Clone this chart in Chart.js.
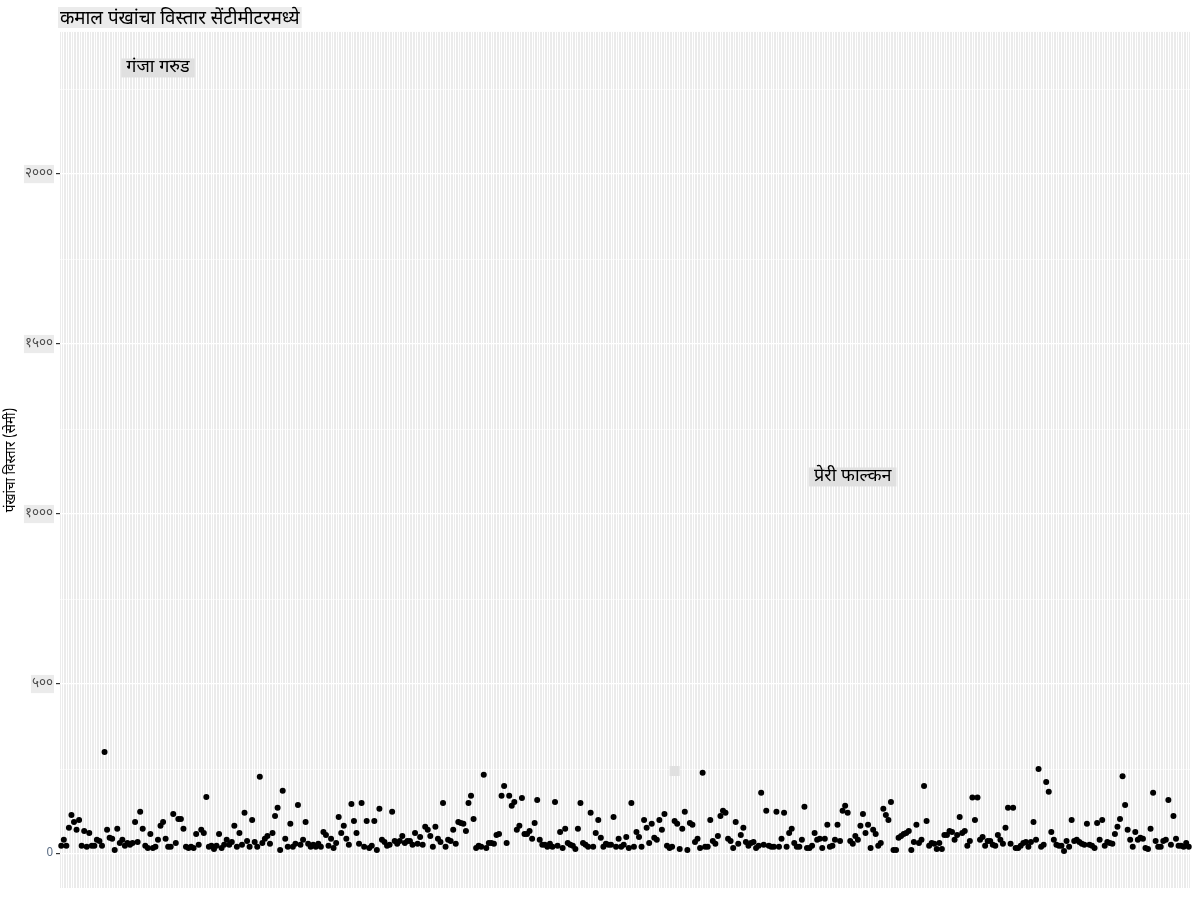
<!DOCTYPE html>
<html>
<head>
<meta charset="utf-8">
<title>कमाल पंखांचा विस्तार</title>
<script src="https://cdn.jsdelivr.net/npm/chart.js@4.4.1/dist/chart.umd.min.js"></script>
<style>
  html, body { margin: 0; padding: 0; background: #ffffff; }
  #wrap { width: 1200px; height: 900px; }
</style>
</head>
<body>
<div id="wrap"><canvas id="spanChart" width="1200" height="900"></canvas></div>
<script>
const chartTitle = 'कमाल पंखांचा विस्तार सेंटीमीटरमध्ये';
const yTitle = 'पंखांचा विस्तार (सेमी)';
const yGridValues = [0, 250, 500, 750, 1000, 1250, 1500, 1750, 2000, 2250];
const yTickValues = [0, 500, 1000, 1500, 2000];
const yTickLabels = ['0', '५००', '१०००', '१५००', '२०००'];

// wingspan (cm), read left to right off the picture
const spanPart1 = [24, 42, 24, 77, 115, 94, 71, 100, 24, 68, 21, 62, 24, 24, 42, 38, 24, 300, 71, 48,
    45, 12, 74, 32, 42, 24, 32, 27, 32, 94, 35, 124, 74, 24, 18, 59, 18, 21, 42, 83,
    94, 45, 21, 21, 118, 32, 103, 103, 74, 21, 18, 21, 18, 59, 27, 71, 62, 168, 21, 24,
    15, 24, 59, 18, 27, 42, 27, 35, 83, 21, 62, 27];
const spanPart2 = [121, 38, 21, 100, 35, 21, 227, 32, 45, 53, 30, 62, 112, 136, 12, 186, 45, 21, 89, 21,
    30, 144, 27, 42, 94, 30, 21, 27, 21, 30, 21, 65, 56, 24, 45, 18, 32, 109, 62, 83,
    45, 27, 147, 97, 62, 30, 150, 21, 97, 18, 24, 97, 12, 133, 42, 35, 24, 27, 124, 38,
    30, 38, 53, 32, 38, 38, 27, 62, 30, 50, 27, 80, 71, 53];
const spanPart3 = [21, 80, 45, 35, 150, 21, 42, 38, 71, 30, 94, 91, 89, 68, 150, 171, 103, 18, 24, 21,
    233, 18, 32, 32, 30, 56, 59, 171, 200, 32, 171, 142, 153, 71, 83, 165, 59, 59, 68, 45,
    91, 159, 42, 27, 27, 21, 30, 21, 153, 24, 65, 18, 74, 32, 27, 24, 15, 74, 150, 32,
    27, 21, 121, 21, 62, 100, 48, 21, 30, 27, 27, 109, 21, 45, 21, 27];
const spanPart4 = [50, 18, 150, 21, 65, 50, 21, 100, 77, 32, 89, 48, 42, 100, 71, 118, 24, 18, 21, 97,
    89, 15, 74, 124, 12, 91, 86, 35, 45, 18, 239, 21, 21, 100, 38, 30, 53, 112, 127, 121,
    45, 38, 18, 94, 30, 56, 77, 35, 24, 32, 35, 18, 24, 180, 27, 127, 24, 21, 21, 124,
    21, 45, 121, 21, 62, 74, 32, 21, 21, 42, 139, 18];
const spanPart5 = [18, 24, 62, 42, 45, 18, 45, 86, 21, 24, 42, 86, 38, 127, 142, 121, 38, 30, 53, 42,
    83, 118, 62, 86, 18, 71, 59, 24, 32, 133, 115, 100, 153, 12, 12, 48, 53, 59, 62, 68,
    12, 35, 86, 32, 42, 200, 97, 24, 32, 30, 15, 32, 15, 56, 56, 68, 65, 42, 56, 109,
    62, 68, 24, 38, 166, 100, 166, 42, 50, 24, 38, 38, 27];
const spanPart6 = [24, 56, 42, 30, 77, 136, 30, 136, 18, 18, 24, 32, 35, 21, 35, 94, 42, 250, 21, 27,
    212, 183, 65, 42, 27, 24, 24, 9, 38, 21, 100, 38, 42, 35, 30, 27, 89, 27, 24, 18,
    91, 42, 100, 24, 35, 32, 30, 59, 80, 103, 229, 144, 71, 42, 21, 65, 42, 48, 45, 18,
    15, 74, 180, 38, 21, 21, 38, 42, 159, 27, 112, 45, 24, 24, 21, 32, 21];

// labelled birds: name, category slot, wingspan
const noteNames = ['गंजा गरुड', 'प्रेरी फाल्कन', ''];
const noteSlots = [38, 311, 241];
const noteValues = [2315, 1112, 247];

const wingspan = [].concat(spanPart1, spanPart2, spanPart3, spanPart4, spanPart5, spanPart6);
const birds = wingspan.map((v, i) => String(i + 1));

const devaFont = '"Noto Sans Devanagari", "Lohit Devanagari", "Noto Sans", "DejaVu Sans", sans-serif';
const titleSize = 18.7;

const panelPlugin = {
    id: 'panel',
    beforeDraw(chart) {
        const ctx = chart.ctx;
        const a = chart.chartArea;
        ctx.save();
        ctx.fillStyle = '#ebebeb';
        ctx.fillRect(a.left, a.top, a.right - a.left, a.bottom - a.top);
        // grey box behind the title text
        const tb = chart.titleBlock;
        if (tb) {
            ctx.font = titleSize + 'px ' + devaFont;
            const w = ctx.measureText(chartTitle).width;
            ctx.fillStyle = '#ebebeb';
            ctx.fillRect(tb.left - 2, 7, w + 4, 21);
        }
        ctx.restore();
    }
};

const notePlugin = {
    id: 'notes',
    afterDatasetsDraw(chart) {
        const ctx = chart.ctx;
        const xs = chart.scales.x;
        const ys = chart.scales.y;
        ctx.save();
        ctx.font = '18px ' + devaFont;
        ctx.textAlign = 'center';
        ctx.textBaseline = 'middle';
        for (let i = 0; i < noteNames.length; i++) {
            const px = xs.getPixelForValue(noteSlots[i]);
            const py = ys.getPixelForValue(noteValues[i]);
            const w = Math.max(ctx.measureText(noteNames[i]).width + 10, 10);
            const h = noteNames[i] ? 19 : 10;
            ctx.fillStyle = '#e0e0e0';
            ctx.fillRect(px - w / 2, py - h / 2 + 1, w, h);
            ctx.fillStyle = '#000000';
            ctx.fillText(noteNames[i], px, py + 2);
        }
        ctx.restore();
    }
};

function tickValue(c) {
    return c && c.tick ? c.tick.value : NaN;
}

function isMajor(c) {
    return yTickValues.indexOf(tickValue(c)) !== -1;
}

function drawChart() {
    const ctx = document.getElementById('spanChart').getContext('2d');
    new Chart(ctx, {
        type: 'line',
        data: {
            labels: birds,
            datasets: [{
                label: 'wingspan',
                data: wingspan,
                showLine: false,
                pointRadius: 3,
                pointHoverRadius: 3,
                pointBorderWidth: 0,
                pointBackgroundColor: '#000000',
                borderColor: '#000000'
            }]
        },
        plugins: [panelPlugin, notePlugin],
        options: {
            responsive: false,
            animation: false,
            events: [],
            layout: { padding: { left: 0, right: 10, top: 0, bottom: 12 } },
            plugins: {
                legend: { display: false },
                tooltip: { enabled: false },
                title: {
                    display: true,
                    text: chartTitle,
                    align: 'start',
                    fullSize: false,
                    color: '#000000',
                    font: { family: devaFont, size: titleSize, weight: 'normal', lineHeight: 1.2 },
                    padding: { top: 9, bottom: 0.5 }
                }
            },
            scales: {
                x: {
                    type: 'category',
                    offset: true,
                    border: { display: false },
                    grid: { offset: false, color: '#ffffff', lineWidth: 1, drawTicks: false },
                    ticks: { display: false, autoSkip: false }
                },
                y: {
                    min: -100,
                    max: 2418,
                    border: { display: false },
                    afterFit: s => { s.width = 60; },
                    afterBuildTicks: s => { s.ticks = yGridValues.map(v => ({ value: v })); },
                    title: {
                        display: true,
                        text: yTitle,
                        color: '#000000',
                        font: { family: devaFont, size: 13.5 },
                        padding: { top: 4, bottom: 2 }
                    },
                    grid: {
                        color: '#ffffff',
                        lineWidth: c => isMajor(c) ? 1.2 : 0.6,
                        tickColor: c => isMajor(c) ? '#333333' : 'rgba(0,0,0,0)',
                        tickLength: 4
                    },
                    ticks: {
                        padding: 3,
                        autoSkip: false,
                        color: c => tickValue(c) === 0 ? '#5d6f86' : '#4d4d4d',
                        font: c => tickValue(c) === 0 ? { family: devaFont, size: 12 } : { family: devaFont, size: 13.5 },
                        showLabelBackdrop: true,
                        backdropColor: c => (isMajor(c) && tickValue(c) !== 0) ? '#ebebeb' : 'rgba(0,0,0,0)',
                        backdropPadding: 1,
                        callback: value => {
                            const k = yTickValues.indexOf(value);
                            return k === -1 ? '' : yTickLabels[k];
                        }
                    }
                }
            }
        }
    });
}

document.addEventListener('DOMContentLoaded', drawChart);
</script>
</body>
</html>
